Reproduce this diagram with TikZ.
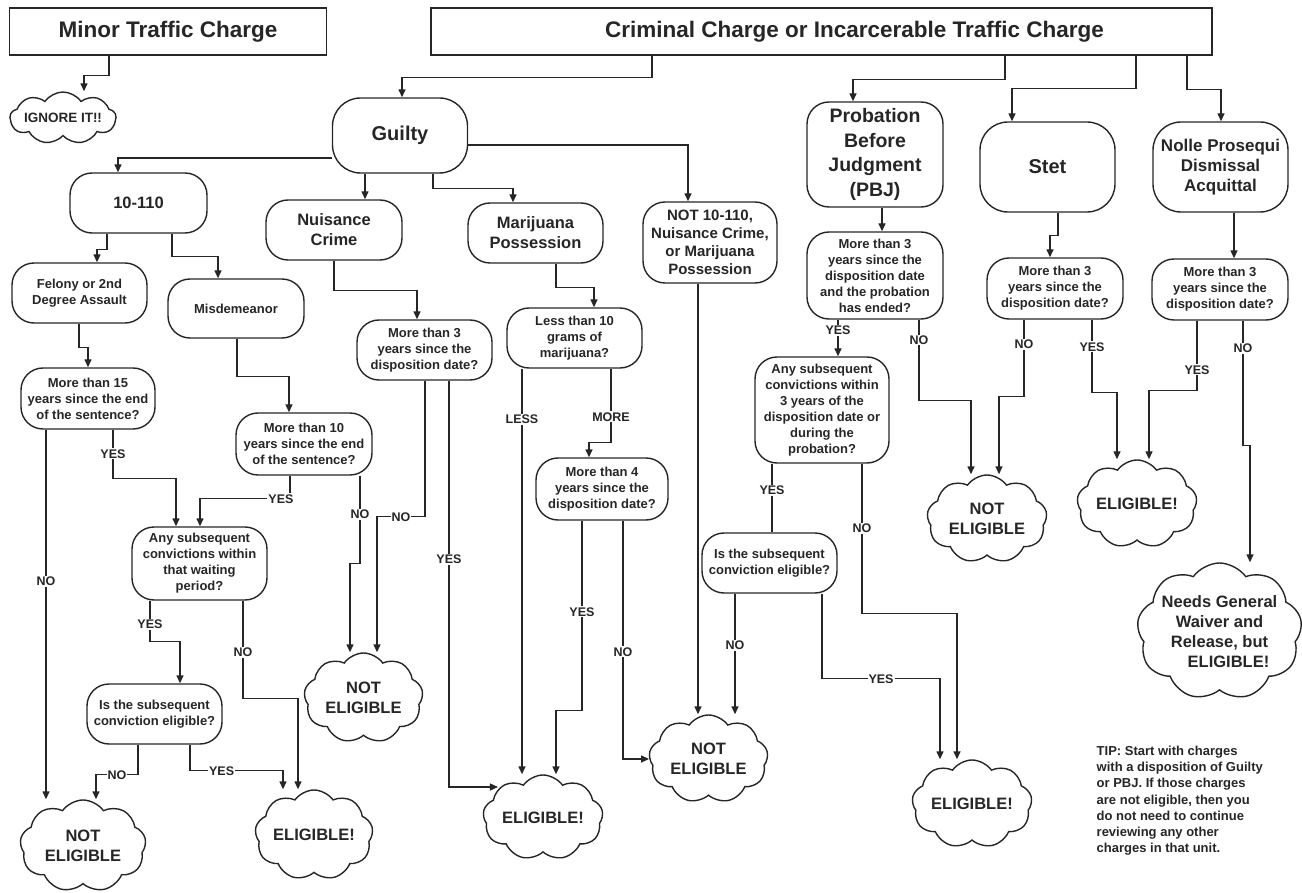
\documentclass[tikz,border=0pt]{standalone}
\usepackage{fontspec}
\setmainfont{Liberation Sans}
\usetikzlibrary{shapes.symbols, arrows.meta, calc}

\begin{document}
\begin{tikzpicture}[x=1pt, y=-1pt, line width=1.4pt, color=black!85,
  title/.style={draw, rectangle, inner sep=2pt, font=\fontsize{22.5}{26}\selectfont\bfseries},
  box/.style={draw, rectangle, rounded corners=22pt, align=center, inner sep=2pt,
    font=\fontsize{16.5}{20}\selectfont\bfseries},
  ques/.style={box, font=\fontsize{13}{16}\selectfont\bfseries},
  cloudy/.style={draw, cloud, cloud puffs=9, cloud puff arc=110, cloud ignores aspect,
    inner xsep=-14pt, inner ysep=-8pt, align=center, font=\fontsize{16.5}{20}\selectfont\bfseries},
  arr/.style={-{Triangle[length=8pt,width=7pt]}},
  lbl/.style={fill=white, inner sep=1pt, font=\fontsize{12.5}{14}\selectfont\bfseries},
  tip/.style={align=left, inner sep=0pt, font=\fontsize{13}{16.3}\selectfont\bfseries}]
  \useasboundingbox (0,0) rectangle (1302,893);

  % Charges
  \node[title, minimum width=317, minimum height=47] (minor) at (168,31.5) {Minor Traffic Charge};
  \node[title, minimum width=781, minimum height=47] (crim) at (821.5,31.5)
    {\hspace*{66pt}Criminal Charge or Incarcerable Traffic Charge};
  \node[cloudy, minimum width=106, minimum height=52, font=\fontsize{13.5}{16}\selectfont\bfseries]
    (ignore) at (63,118) {IGNORE IT!!};

  % Dispositions
  \node[box, rounded corners=28pt, minimum width=135, minimum height=75, font=\fontsize{20}{24}\selectfont\bfseries]
    (guilty) at (400,135.5) {Guilty};
  \node[box, minimum width=136, minimum height=105, font=\fontsize{19.5}{24.5}\selectfont\bfseries]
    (pbj) at (875,154.5) {Probation\\Before\\Judgment\\(PBJ)};
  \node[box, rounded corners=28pt, minimum width=135, minimum height=90, font=\fontsize{20}{24}\selectfont\bfseries]
    (stet) at (1047.5,167) {Stet};
  \node[box, rounded corners=28pt, minimum width=135, minimum height=90, font=\fontsize{17}{20}\selectfont\bfseries]
    (nolle) at (1220.5,167) {Nolle Prosequi\\Dismissal\\Acquittal};

  % Guilty branches
  \node[box, minimum width=137, minimum height=60] (tenten) at (138.5,203) {10-110};
  \node[box, minimum width=136, minimum height=60] (nuis) at (334,230) {Nuisance\\Crime};
  \node[box, minimum width=135, minimum height=60] (marij) at (535.5,233) {Marijuana\\Possession};
  \node[box, minimum width=134, minimum height=81, font=\fontsize{15}{18}\selectfont\bfseries]
    (notany) at (710,242.5) {NOT 10-110,\\Nuisance Crime,\\or Marijuana\\Possession};
  \node[ques, minimum width=135, minimum height=60] (felony) at (79.5,293) {Felony or 2nd\\Degree Assault};
  \node[ques, minimum width=136, minimum height=59] (misd) at (236,308.5) {Misdemeanor};

  % Questions
  \node[ques, minimum width=134, minimum height=61] (q15) at (88,398.5) {More than 15\\years since the end\\of the sentence?};
  \node[ques, minimum width=136, minimum height=62] (q10) at (304,444) {More than 10\\years since the end\\of the sentence?};
  \node[ques, minimum width=135, minimum height=60] (q3a) at (424.5,350) {More than 3\\years since the\\disposition date?};
  \node[ques, minimum width=135, minimum height=60] (qless) at (574.5,338) {Less than 10\\grams of\\marijuana?};
  \node[ques, minimum width=132, minimum height=62] (q4) at (602,489) {More than 4\\years since the\\disposition date?};
  \node[ques, minimum width=135, minimum height=73] (qany) at (199.5,563.5) {Any subsequent\\convictions within\\that waiting\\period?};
  \node[ques, minimum width=135, minimum height=60] (qis) at (154.5,714) {Is the subsequent\\conviction eligible?};
  \node[ques, minimum width=136, minimum height=87] (qpbj) at (875,275.5)
    {More than 3\\years since the\\disposition date\\and the probation\\has ended?};
  \node[ques, minimum width=134, minimum height=106] (qsub) at (822,410)
    {Any subsequent\\convictions within\\3 years of the\\disposition date or\\during the\\probation?};
  \node[ques, minimum width=135, minimum height=60] (qis2) at (769.5,563) {Is the subsequent\\conviction eligible?};
  \node[ques, minimum width=136, minimum height=61] (qstet) at (1055,288.5) {More than 3\\years since the\\disposition date?};
  \node[ques, minimum width=136, minimum height=61] (qnolle) at (1220,289.5) {More than 3\\years since the\\disposition date?};

  % Outcomes
  \node[cloudy, minimum width=126, minimum height=92] (ne1) at (83,846) {NOT\\ELIGIBLE};
  \node[cloudy, minimum width=118, minimum height=90] (el1) at (314,835) {ELIGIBLE!};
  \node[cloudy, minimum width=119, minimum height=90] (ne2) at (363.5,698) {NOT\\ELIGIBLE};
  \node[cloudy, minimum width=120, minimum height=85] (el2) at (543,817.5) {ELIGIBLE!};
  \node[cloudy, minimum width=119, minimum height=88] (ne3) at (708.5,759) {NOT\\ELIGIBLE};
  \node[cloudy, minimum width=120, minimum height=88] (el3) at (972,804) {ELIGIBLE!};
  \node[cloudy, minimum width=120, minimum height=88] (ne4) at (987,519) {NOT\\ELIGIBLE};
  \node[cloudy, minimum width=120, minimum height=88] (el4) at (1137,504) {ELIGIBLE!};
  \node[cloudy, minimum width=165, minimum height=137] (needs) at (1219.5,631.5)
    {Needs General\\Waiver and\\Release, but\\\hspace*{18pt}ELIGIBLE!};

  \node[tip, anchor=north west] (tipnote) at (1096,745) {TIP: Start with charges\\with a disposition of Guilty\\or PBJ. If those charges\\are not eligible, then you\\do not need to continue\\reviewing any other\\charges in that unit.};

  % Top connectors
  \draw[arr] (minor.south -| 109,0) -- ++(0,20) -| (ignore.north -| 84,0);
  \draw[arr] (crim.south -| 652,0) -- ++(0,22) -| (guilty.north -| 402,0);
  \draw[arr] (crim.south -| 1005,0) -- ++(0,24) -| (pbj.north -| 853,0);
  \draw[arr] (crim.south -| 1136,0) -- ++(0,33) -| (stet.north -| 1012,0);
  \draw[arr] (crim.south -| 1187,0) -- ++(0,34) -| (nolle.north -| 1221,0);

  % Guilty
  \draw[arr] (guilty.west |- 0,158) -| (tenten.north -| 118,0);
  \draw[arr] (guilty.south -| 365,0) -- (nuis.north -| 365,0);
  \draw[arr] (guilty.south -| 433,0) -- ++(0,15) -| (marij.north -| 513,0);
  \draw[arr] (guilty.east |- 0,145) -| (notany.north -| 688,0);
  \draw[arr] (tenten.south -| 107,0) -- ++(0,16) -| (felony.north -| 97,0);
  \draw[arr] (tenten.south -| 172,0) -- ++(0,23) -| (misd.north -| 218,0);
  \draw[arr] (felony.south -| 79,0) -- ++(0,24) -| (q15.north -| 88,0);
  \draw[arr] (misd.south -| 237,0) -- ++(0,38) -| (q10.north -| 289,0);
  \draw[arr] (nuis.south -| 334,0) -- ++(0,30) -| (q3a.north -| 417,0);
  \draw[arr] (marij.south -| 556,0) -- ++(0,24) -| (qless.north -| 594,0);

  % 10-110
  \draw[arr] (q15.south -| 46,0) -- node[lbl, pos=.41] {NO} (ne1.north -| 46,0);
  \draw[arr] (q15.south -| 113,0) -- node[lbl, pos=.49] {YES} ++(0,49) -| (qany.north -| 176,0);
  \draw[arr] (q10.south -| 290,0) -- ++(0,23) -| node[lbl, pos=.05] {YES} (qany.north -| 200,0);
  \draw[arr] (q10.south -| 360,0) -- node[lbl, pos=.44] {NO} ++(0,88) -| (ne2.north -| 350,0);
  \draw[arr] (qany.south -| 150,0) -- node[lbl, pos=.58] {YES} ++(0,41) -| (qis.north -| 180,0);
  \draw[arr] (qany.south -| 243,0) -- node[lbl, pos=.53] {NO} ++(0,98) -| (el1.north -| 298,0);
  \draw[arr] (qis.south -| 138,0) -- ++(0,30) -| node[lbl, pos=.25] {NO} (ne1.north -| 96,0);
  \draw[arr] (qis.south -| 190,0) -- ++(0,26) -| node[lbl, pos=.17] {YES} (el1.north -| 283,0);

  % Nuisance and marijuana
  \draw[arr] (q3a.south -| 425,0) -- ++(0,136) -| node[lbl, pos=.25] {NO} (ne2.north -| 377,0);
  \draw[arr] (q3a.south -| 449,0) |- node[lbl, pos=.22] {YES} ($(el2.west |- 0,787)+(15,0)$);
  \draw[arr] (qless.south -| 522,0) -- node[lbl, pos=.125] {LESS} (el2.north -| 522,0);
  \draw[arr] (qless.south -| 611,0) -- node[lbl, pos=.65] {MORE} ++(0,74) -| (q4.north -| 589,0);
  \draw[arr] (q4.south -| 582,0) -- node[lbl, pos=.48] {YES} ++(0,190) -| (el2.north -| 556,0);
  \draw[arr] (q4.south -| 623,0) |- node[lbl, pos=.275] {NO} (ne3.west);
  \draw[arr] (notany.south -| 698,0) -- (ne3.north -| 698,0);

  % PBJ
  \draw[arr] (pbj.south -| 882,0) -- (qpbj.north -| 882,0);
  \draw[arr] (qpbj.south -| 838,0) -- node[lbl, pos=.3] {YES} (qsub.north -| 838,0);
  \draw[arr] (qpbj.south -| 919,0) -- node[lbl, pos=.25] {NO} ++(0,81) -| (ne4.north -| 971,0);
  \draw (qsub.south -| 772,0) -- node[lbl, pos=.39] {YES} (qis2.north -| 772,0);
  \draw[arr] (qsub.south -| 862,0) -- node[lbl, pos=.43] {NO} ++(0,150) -| (el3.north -| 957,0);
  \draw[arr] (qis2.south -| 735,0) -- node[lbl, pos=.43] {NO} (ne3.north -| 735,0);
  \draw[arr] (qis2.south -| 822,0) -- ++(0,85) -| node[lbl, pos=.25] {YES} (el3.north -| 940,0);

  % Stet and Nolle
  \draw[arr] (stet.south -| 1058,0) -- ++(0,23) -| (qstet.north -| 1050,0);
  \draw[arr] (qstet.south -| 1024,0) -- node[lbl, pos=.32] {NO} ++(0,77) -| (ne4.north -| 999,0);
  \draw[arr] (qstet.south -| 1092,0) -- node[lbl, pos=.37] {YES} ++(0,73) -| (el4.north -| 1117,0);
  \draw[arr] (nolle.south -| 1234,0) -- (qnolle.north -| 1234,0);
  \draw[arr] (qnolle.south -| 1197,0) -- node[lbl, pos=.7] {YES} ++(0,70) -| (el4.north -| 1149,0);
  \draw[arr] (qnolle.south -| 1243,0) -- node[lbl, pos=.22] {NO} ++(0,125) -| (needs.north -| 1250,0);

\end{tikzpicture}
\end{document}
